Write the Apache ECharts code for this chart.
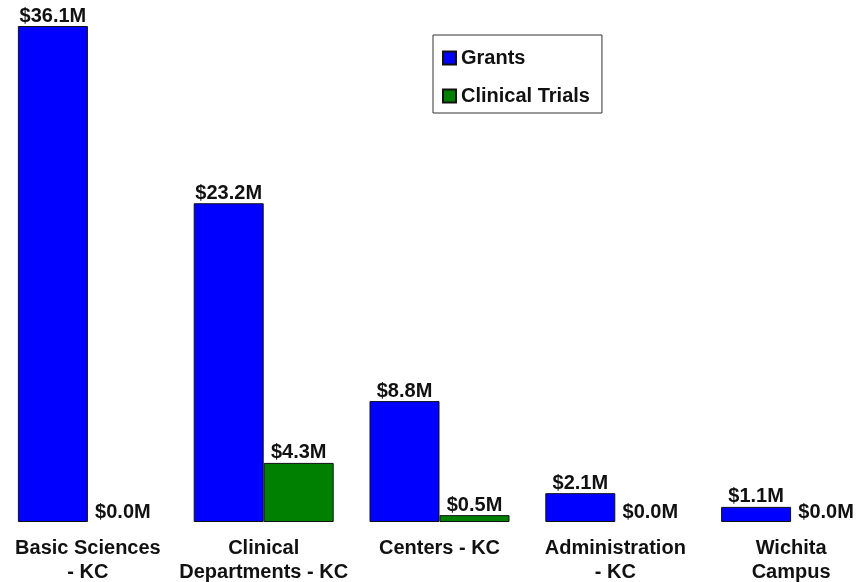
<!DOCTYPE html>
<html>
<head>
<meta charset="utf-8">
<script src="https://cdn.jsdelivr.net/npm/echarts@6/dist/echarts.min.js"></script>
<style>
  html, body { margin: 0; padding: 0; background: #fff; overflow: hidden; }
  /* chart is a bit wider than the window; the last band runs past the right edge */
  #chart { width: 879px; height: 582px; }
</style>
</head>
<body>
<div id="chart"></div>
<script>
// categories & values ($M)
const categories = ['Basic Sciences\n- KC', 'Clinical\nDepartments - KC', 'Centers - KC', 'Administration\n- KC', 'Wichita\nCampus']
const grants = [36.1, 23.2, 8.8, 2.1, 1.1]
const clinicalTrials = [0.0, 4.3, 0.5, 0.0, 0.0]

const FONT = "'Liberation Sans', Arial, sans-serif"
const fmtM = v => '$' + v.toFixed(1) + 'M'

const barLabel = {
  show: true,
  position: 'top',
  distance: 0,
  color: '#111',
  fontFamily: FONT,
  fontWeight: 'bold',
  fontSize: 20,
  formatter: ({ value }) => fmtM(value)
}

// zero-height bars get no outline
const toBarData = arr => arr.map(v => v === 0 ? { value: v, itemStyle: { borderWidth: 0 } } : v)

const chart = echarts.init(document.getElementById('chart'))
chart.setOption({
  animation: false,
  backgroundColor: '#fff',
  grid: { left: 0, right: 0, top: 26, bottom: 60, containLabel: false, outerBoundsMode: 'none' },
  legend: {
    orient: 'vertical',
    left: 433,
    top: 35,
    padding: [13, 12, 7, 9],
    itemGap: 18,
    itemWidth: 13,
    itemHeight: 13,
    icon: 'rect',
    borderColor: '#333',
    borderWidth: 1,
    backgroundColor: '#fff',
    textStyle: { color: '#111', fontFamily: FONT, fontWeight: 'bold', fontSize: 20 },
    data: ['Grants', 'Clinical Trials']
  },
  xAxis: {
    type: 'category',
    data: categories,
    axisLine: { show: false },
    axisTick: { show: false },
    axisLabel: {
      margin: 14,
      color: '#111',
      fontFamily: FONT,
      fontWeight: 'bold',
      fontSize: 20,
      lineHeight: 24,
      interval: 0
    }
  },
  yAxis: {
    type: 'value',
    min: 0,
    max: 'dataMax',
    show: false,
    splitLine: { show: false }
  },
  series: [
    {
      name: 'Grants',
      type: 'bar',
      barWidth: 70,
      barGap: '0%',
      itemStyle: { color: '#0000ff', borderColor: '#111', borderWidth: 1 },
      label: barLabel,
      data: toBarData(grants)
    },
    {
      name: 'Clinical Trials',
      type: 'bar',
      barWidth: 70,
      itemStyle: { color: '#008000', borderColor: '#111', borderWidth: 1 },
      label: barLabel,
      data: toBarData(clinicalTrials)
    }
  ]
})
</script>
</body>
</html>
